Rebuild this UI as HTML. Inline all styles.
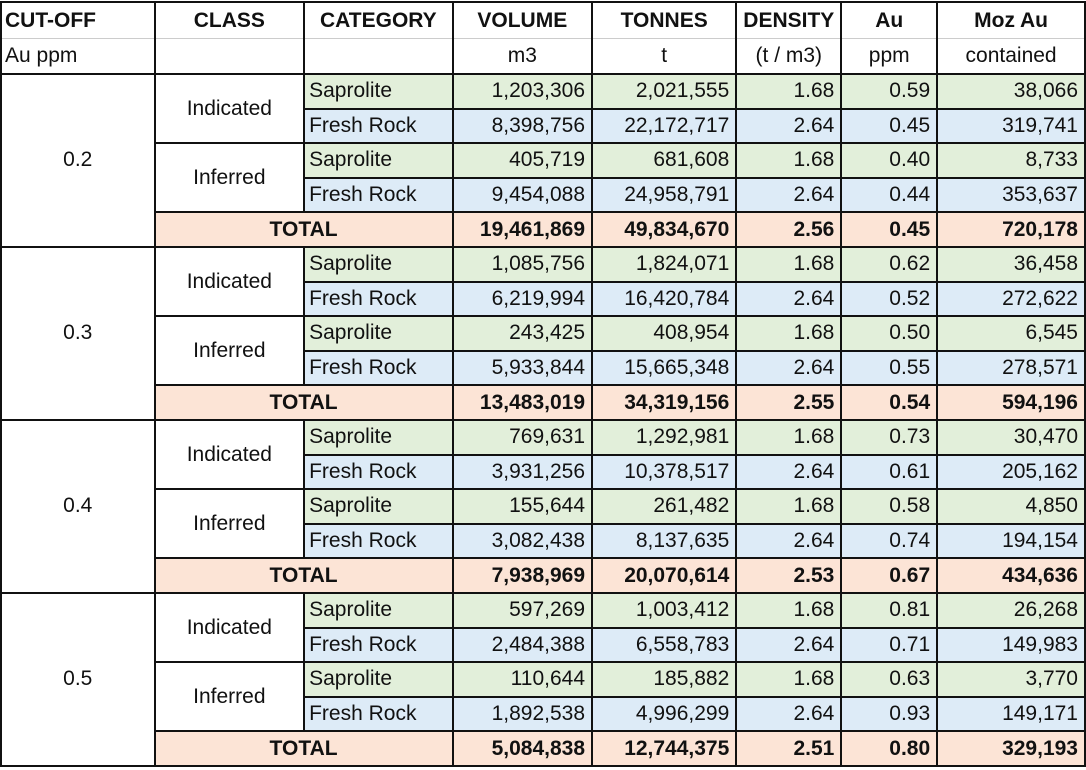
<!DOCTYPE html>
<html><head><meta charset="utf-8"><style>
html,body{margin:0;padding:0;background:#fff;width:1086px;height:770px;overflow:hidden}
table{border-collapse:collapse;table-layout:fixed;position:absolute;left:0;top:1px;font-family:"Liberation Sans",sans-serif;font-size:21px;color:#111}
td{border:2px solid #111;padding:0 6px;white-space:nowrap;overflow:hidden;height:32.6px;line-height:30px}
.h td{font-weight:bold;text-align:center;height:35px;border-bottom:1px solid #ccc}
.h td:first-child{text-align:left;padding-left:3px}
.s td{text-align:center;height:34px;border-top:1px solid #ccc}
.s td:first-child{text-align:left;padding-left:3px}
.c{text-align:center}
.g td.n,.g td.k{background:#e2efda}
.b td.n,.b td.k{background:#ddebf7}
.n{text-align:right}
.k{text-align:left;padding-left:4px}
.t td{background:#fce4d6;font-weight:bold}
</style></head><body>
<table>
<colgroup><col style="width:155px"><col style="width:151px"><col style="width:149px"><col style="width:140px"><col style="width:145px"><col style="width:98px"><col style="width:97px"><col style="width:149px"></colgroup>
<tr class="h"><td>CUT-OFF</td><td>CLASS</td><td>CATEGORY</td><td>VOLUME</td><td>TONNES</td><td>DENSITY</td><td>Au</td><td>Moz Au</td></tr>
<tr class="s"><td>Au ppm</td><td></td><td></td><td>m3</td><td>t</td><td>(t / m3)</td><td>ppm</td><td>contained</td></tr>

<tr class="g"><td rowspan="5" class="c">0.2</td><td rowspan="2" class="c">Indicated</td><td class="k">Saprolite</td><td class="n">1,203,306</td><td class="n">2,021,555</td><td class="n">1.68</td><td class="n">0.59</td><td class="n">38,066</td></tr>
<tr class="b"><td class="k">Fresh Rock</td><td class="n">8,398,756</td><td class="n">22,172,717</td><td class="n">2.64</td><td class="n">0.45</td><td class="n">319,741</td></tr>
<tr class="g"><td rowspan="2" class="c">Inferred</td><td class="k">Saprolite</td><td class="n">405,719</td><td class="n">681,608</td><td class="n">1.68</td><td class="n">0.40</td><td class="n">8,733</td></tr>
<tr class="b"><td class="k">Fresh Rock</td><td class="n">9,454,088</td><td class="n">24,958,791</td><td class="n">2.64</td><td class="n">0.44</td><td class="n">353,637</td></tr>
<tr class="t"><td colspan="2" class="c">TOTAL</td><td class="n">19,461,869</td><td class="n">49,834,670</td><td class="n">2.56</td><td class="n">0.45</td><td class="n">720,178</td></tr>

<tr class="g"><td rowspan="5" class="c">0.3</td><td rowspan="2" class="c">Indicated</td><td class="k">Saprolite</td><td class="n">1,085,756</td><td class="n">1,824,071</td><td class="n">1.68</td><td class="n">0.62</td><td class="n">36,458</td></tr>
<tr class="b"><td class="k">Fresh Rock</td><td class="n">6,219,994</td><td class="n">16,420,784</td><td class="n">2.64</td><td class="n">0.52</td><td class="n">272,622</td></tr>
<tr class="g"><td rowspan="2" class="c">Inferred</td><td class="k">Saprolite</td><td class="n">243,425</td><td class="n">408,954</td><td class="n">1.68</td><td class="n">0.50</td><td class="n">6,545</td></tr>
<tr class="b"><td class="k">Fresh Rock</td><td class="n">5,933,844</td><td class="n">15,665,348</td><td class="n">2.64</td><td class="n">0.55</td><td class="n">278,571</td></tr>
<tr class="t"><td colspan="2" class="c">TOTAL</td><td class="n">13,483,019</td><td class="n">34,319,156</td><td class="n">2.55</td><td class="n">0.54</td><td class="n">594,196</td></tr>

<tr class="g"><td rowspan="5" class="c">0.4</td><td rowspan="2" class="c">Indicated</td><td class="k">Saprolite</td><td class="n">769,631</td><td class="n">1,292,981</td><td class="n">1.68</td><td class="n">0.73</td><td class="n">30,470</td></tr>
<tr class="b"><td class="k">Fresh Rock</td><td class="n">3,931,256</td><td class="n">10,378,517</td><td class="n">2.64</td><td class="n">0.61</td><td class="n">205,162</td></tr>
<tr class="g"><td rowspan="2" class="c">Inferred</td><td class="k">Saprolite</td><td class="n">155,644</td><td class="n">261,482</td><td class="n">1.68</td><td class="n">0.58</td><td class="n">4,850</td></tr>
<tr class="b"><td class="k">Fresh Rock</td><td class="n">3,082,438</td><td class="n">8,137,635</td><td class="n">2.64</td><td class="n">0.74</td><td class="n">194,154</td></tr>
<tr class="t"><td colspan="2" class="c">TOTAL</td><td class="n">7,938,969</td><td class="n">20,070,614</td><td class="n">2.53</td><td class="n">0.67</td><td class="n">434,636</td></tr>

<tr class="g"><td rowspan="5" class="c">0.5</td><td rowspan="2" class="c">Indicated</td><td class="k">Saprolite</td><td class="n">597,269</td><td class="n">1,003,412</td><td class="n">1.68</td><td class="n">0.81</td><td class="n">26,268</td></tr>
<tr class="b"><td class="k">Fresh Rock</td><td class="n">2,484,388</td><td class="n">6,558,783</td><td class="n">2.64</td><td class="n">0.71</td><td class="n">149,983</td></tr>
<tr class="g"><td rowspan="2" class="c">Inferred</td><td class="k">Saprolite</td><td class="n">110,644</td><td class="n">185,882</td><td class="n">1.68</td><td class="n">0.63</td><td class="n">3,770</td></tr>
<tr class="b"><td class="k">Fresh Rock</td><td class="n">1,892,538</td><td class="n">4,996,299</td><td class="n">2.64</td><td class="n">0.93</td><td class="n">149,171</td></tr>
<tr class="t"><td colspan="2" class="c">TOTAL</td><td class="n">5,084,838</td><td class="n">12,744,375</td><td class="n">2.51</td><td class="n">0.80</td><td class="n">329,193</td></tr>
</table>
</body></html>
